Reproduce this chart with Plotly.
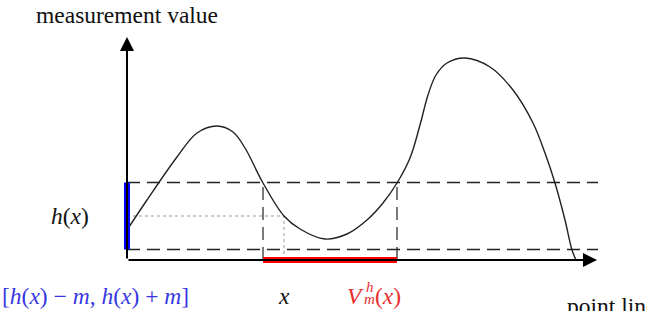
import plotly.graph_objects as go

# ---- data (x: position along the point line, y: measurement value) ----
curve_x = [0, 20, 50, 70, 90, 106, 118, 136, 157, 173, 198, 220, 240, 256,
           270, 283, 293, 301, 309, 320, 338, 363, 386, 406, 418, 428, 438, 445, 449]
curve_y = [30, 60, 103, 127, 134, 128, 112, 77, 44, 31, 21, 26, 40, 57,
           77, 102, 135, 165, 185, 197, 202, 193, 170, 137, 107, 77, 40, 10, 0]
x_point = 157          # x
h_value = 44           # h(x)
m_half = 33.5          # m
v_interval = [136, 270]  # V_m^h(x)
x_axis_end = 470
y_axis_end = 223
guide_end = 471

lo, hi = h_value - m_half, h_value + m_half

FONT = "Liberation Serif, Times New Roman, serif"
fig = go.Figure()

for yy in (lo, hi):
    fig.add_trace(go.Scatter(x=[0, guide_end], y=[yy, yy], mode="lines",
                             line=dict(color="#222", width=1.3, dash="13px,7px"), hoverinfo="skip"))
for xx in v_interval:
    fig.add_trace(go.Scatter(x=[xx, xx], y=[0, hi], mode="lines",
                             line=dict(color="#333", width=1.3, dash="13px,7px"), hoverinfo="skip"))
fig.add_trace(go.Scatter(x=[0, x_point, x_point], y=[h_value, h_value, 0], mode="lines",
                         line=dict(color="#999", width=1, dash="dot"), hoverinfo="skip"))
fig.add_trace(go.Scatter(x=curve_x, y=curve_y, mode="lines",
                         line=dict(color="#222", width=1.4, shape="spline", smoothing=1.0),
                         hoverinfo="skip"))
fig.add_trace(go.Scatter(x=v_interval, y=[0, 0], mode="lines",
                         line=dict(color="#ff0000", width=6), hoverinfo="skip"))
fig.add_trace(go.Scatter(x=[0, 0], y=[lo, hi], mode="lines",
                         line=dict(color="#0000ff", width=6), hoverinfo="skip"))

annotations = []
annotations.append(dict(x=0, y=y_axis_end, ax=0, ay=0, xref="x", yref="y", axref="x", ayref="y",
                        text="", showarrow=True, arrowhead=2, arrowsize=1.4, arrowwidth=2,
                        arrowcolor="black"))
annotations.append(dict(x=x_axis_end, y=0, ax=0, ay=0, xref="x", yref="y", axref="x", ayref="y",
                        text="", showarrow=True, arrowhead=2, arrowsize=1.4, arrowwidth=2,
                        arrowcolor="black"))

def txt(x, y, s, color="#111", size=23.5, xanchor="center"):
    annotations.append(dict(x=x, y=y, xref="x", yref="y", text=s, showarrow=False,
                            xanchor=xanchor, yanchor="middle",
                            font=dict(family=FONT, size=size, color=color)))

txt(0, 245, "measurement value")
txt(-57, h_value, "<i>h</i>(<i>x</i>)")
txt(-32, -36, "[<i>h</i>(<i>x</i>) − <i>m</i>, <i>h</i>(<i>x</i>) + <i>m</i>]", color="rgb(55,55,225)")
txt(x_point, -36, "<i>x</i>")
red = "rgb(232,45,45)"
txt(228, -36, "<i>V</i>", color=red)
txt(243, -27, "<i>h</i>", color=red, size=15)
txt(242, -39, "<i>m</i>", color=red, size=15)
txt(261, -36, "(<i>x</i>)", color=red)
txt(438, -46, "point line", xanchor="left")

fig.update_layout(
    width=647, height=311, margin=dict(l=0, r=0, t=0, b=0),
    paper_bgcolor="white", plot_bgcolor="white", showlegend=False,
    xaxis=dict(range=[-127, 520], visible=False, fixedrange=True),
    yaxis=dict(range=[-51, 260], visible=False, fixedrange=True),
    annotations=annotations,
)
fig.write_html("out.html")
